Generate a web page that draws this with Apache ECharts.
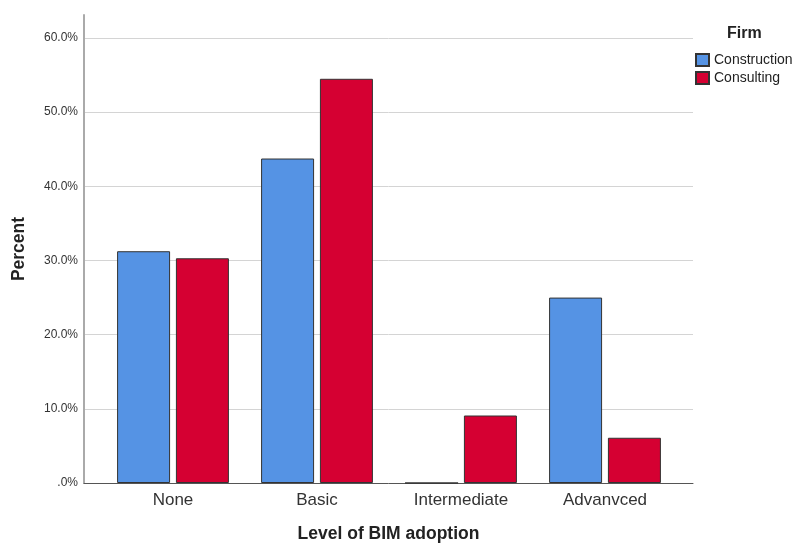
<!DOCTYPE html>
<html>
<head>
<meta charset="utf-8">
<script src="https://cdn.jsdelivr.net/npm/echarts@6/dist/echarts.min.js"></script>
<style>html,body{margin:0;padding:0;background:#fff}#c{width:795px;height:544px}</style>
</head>
<body>
<div id="c"></div>
<script>
var categories = ['None', 'Basic', 'Intermediate', 'Advanvced'];
var construction = [31.25, 43.75, 0, 25.0];
var consulting = [30.3, 54.5, 9.1, 6.1];
var seriesNames = ['Construction', 'Consulting'];
var yTicks = [0, 10, 20, 30, 40, 50, 60];

var font = 'Liberation Sans, Arial, sans-serif';
var chart = echarts.init(document.getElementById('c'), null, {renderer: 'canvas'});
chart.setOption({
  animation: false,
  textStyle: {fontFamily: font},
  title: {text: 'Firm', left: 722, top: 21, textStyle: {fontSize: 16, fontWeight: 'bold', color: '#222', fontFamily: font}},
  legend: {
    orient: 'vertical', left: 690, top: 48, itemWidth: 13, itemHeight: 12, itemGap: 4,
    icon: 'rect', data: seriesNames, padding: 5,
    textStyle: {fontSize: 14, color: '#222', fontFamily: font}
  },
  grid: [
    {left: 84, right: 102, top: 15, bottom: 61, outerBoundsMode: 'none', containLabel: false},
    {left: 84, right: 102, top: 38, bottom: 61, outerBoundsMode: 'none', containLabel: false},
    {left: 101, right: 118, top: 38, bottom: 61, outerBoundsMode: 'none', containLabel: false}
  ],
  xAxis: [
    {gridIndex: 0, type: 'value', min: 0, max: 1, show: false},
    {gridIndex: 1, type: 'value', min: 0, max: 1,
     axisLine: {show: true, onZero: false, lineStyle: {color: '#555', width: 1}},
     axisTick: {show: false}, axisLabel: {show: false}, splitLine: {show: false},
     name: 'Level of BIM adoption', nameLocation: 'middle', nameGap: 42,
     nameTextStyle: {fontSize: 17.5, fontWeight: 'bold', color: '#222', fontFamily: font}},
    {gridIndex: 2, type: 'category', data: categories, axisLine: {show: false}, axisTick: {show: false},
     axisLabel: {fontSize: 17, color: '#333', margin: 9, fontFamily: font}}
  ],
  yAxis: [
    {gridIndex: 0, type: 'value', min: 0, max: 63.1,
     axisLine: {show: true, onZero: false, lineStyle: {color: '#aaa', width: 2}},
     axisTick: {show: false}, axisLabel: {show: false}, splitLine: {show: false},
     name: 'Percent', nameLocation: 'middle', nameGap: 56,
     nameTextStyle: {fontSize: 17.5, fontWeight: 'bold', color: '#222', fontFamily: font}},
    {gridIndex: 1, type: 'value', min: yTicks[0], max: yTicks[yTicks.length - 1], interval: 10,
     axisLine: {show: false}, axisTick: {show: false},
     axisLabel: {fontSize: 12, color: '#333', margin: 6, fontFamily: font,
       formatter: function (v) { return v === 0 ? '.0%' : v.toFixed(1) + '%'; }},
     splitLine: {show: true, lineStyle: {color: '#d4d4d4', width: 1}}},
    {gridIndex: 2, type: 'value', min: 0, max: 60, show: false}
  ],
  series: [
    {name: seriesNames[0], type: 'bar', xAxisIndex: 2, yAxisIndex: 2, data: construction,
     barWidth: 53, barGap: '11%',
     itemStyle: {color: '#5593e4', borderColor: '#333', borderWidth: 1}},
    {name: seriesNames[1], type: 'bar', xAxisIndex: 2, yAxisIndex: 2, data: consulting,
     barWidth: 53, barGap: '11%',
     itemStyle: {color: '#d50032', borderColor: '#333', borderWidth: 1}}
  ]
});
</script>
</body>
</html>
